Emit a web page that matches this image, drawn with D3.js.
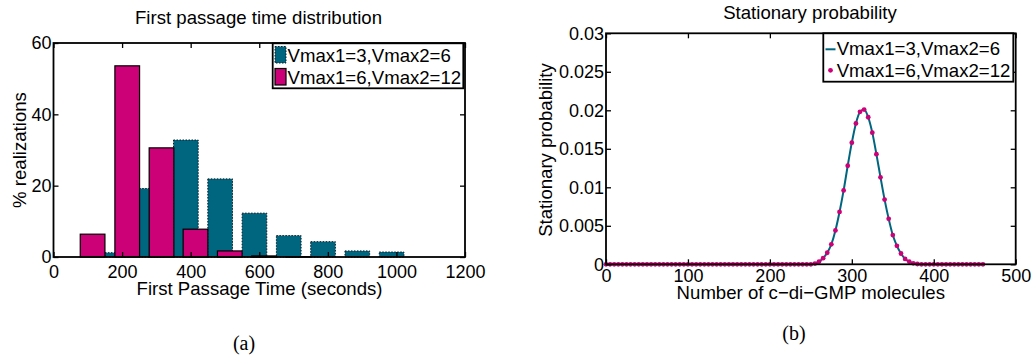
<!DOCTYPE html>
<html>
<head>
<meta charset="utf-8">
<script src="https://cdn.jsdelivr.net/npm/d3@7"></script>
<style>
  body { margin: 0; background: #fff; }
  svg text { font-family: "Liberation Sans", Arial, sans-serif; }
</style>
</head>
<body>
<div id="chart"></div>
<script>
// (a) first passage time histogram - bin centers (seconds) and % realizations
let fptCentersSlow = [186, 286, 386, 486, 586, 686, 786, 886, 986];
let fptValuesSlow  = [1.2, 19.2, 32.8, 21.9, 12.3, 6.0, 4.3, 1.7, 1.4];
let fptCentersFast = [114, 215, 315, 414, 514, 614, 714];
let fptValuesFast  = [6.4, 53.6, 30.6, 7.8, 1.7, 0.3, 0.1];
let fptXTicks = [0, 200, 400, 600, 800, 1000, 1200];
let fptYTicks = [0, 20, 40, 60];

// (b) stationary probability vs number of c-di-GMP molecules
let molCounts = [0, 5, 10, 15, 20, 25, 30, 35, 40, 45, 50, 55, 60, 65, 70, 75, 80, 85, 90, 95,
  100, 105, 110, 115, 120, 125, 130, 135, 140, 145, 150, 155, 160, 165, 170, 175, 180, 185, 190, 195,
  200, 205, 210, 215, 220, 225, 230, 235, 240, 245, 250, 255, 260, 265, 270, 275, 280, 285, 290, 295,
  300, 305, 310, 315, 320, 325, 330, 335, 340, 345, 350, 355, 360, 365, 370, 375, 380, 385, 390, 395,
  400, 405, 410, 415, 420, 425, 430, 435, 440, 445, 450, 455, 460];
let probSlow = [0, 0, 0, 0, 0, 0, 0, 0, 0, 0, 0, 0, 0, 0, 0, 0, 0, 0, 0, 0,
  0, 0, 0, 0, 0, 0, 0, 0, 0, 0, 0, 0, 0, 0, 0, 0, 0, 0, 0, 0,
  0, 0, 0, 0, 0, 0, 0, 0, 0, 0, 0, 0.0001, 0.00035, 0.0008, 0.0015, 0.0026, 0.0044, 0.0068, 0.0096, 0.0128,
  0.0158, 0.0183, 0.0198, 0.0201, 0.0191, 0.0171, 0.0143, 0.0113, 0.0084, 0.0059, 0.0038, 0.0024, 0.0014, 0.0007, 0.00035, 0.00013, 0.00004, 0, 0, 0,
  0, 0, 0, 0, 0, 0, 0, 0, 0, 0, 0, 0, 0];
let probFast = [0, 0, 0, 0, 0, 0, 0, 0, 0, 0, 0, 0, 0, 0, 0, 0, 0, 0, 0, 0,
  0, 0, 0, 0, 0, 0, 0, 0, 0, 0, 0, 0, 0, 0, 0, 0, 0, 0, 0, 0,
  0, 0, 0, 0, 0, 0, 0, 0, 0, 0, 0, 0.0001, 0.00035, 0.0008, 0.0015, 0.0026, 0.0044, 0.0068, 0.0096, 0.0128,
  0.0158, 0.0183, 0.0198, 0.0201, 0.0191, 0.0171, 0.0143, 0.0113, 0.0084, 0.0059, 0.0038, 0.0024, 0.0014, 0.0007, 0.00035, 0.00013, 0.00004, 0, 0, 0,
  0, 0, 0, 0, 0, 0, 0, 0, 0, 0, 0, 0, 0];
let probXTicks = [0, 100, 200, 300, 400, 500];
let probYTicks = [0, 0.005, 0.01, 0.015, 0.02, 0.025, 0.03];
let probYLabels = ["0", "0.005", "0.01", "0.015", "0.02", "0.025", "0.03"];

let seriesNames = ["Vmax1=3,Vmax2=6", "Vmax1=6,Vmax2=12"];

const TEAL = "#00667f";
const MAGENTA = "#cc0077";
const FS = 18;      // tick labels
const LFS = 18.6;   // titles, axis labels, legend

let svg = d3.select("#chart").append("svg")
    .attr("width", 1033)
    .attr("height", 359);

// draws the boxed axes with inward ticks on every side
function draw_frame(g, xScale, yScale, xTicks, yTicks, yFormat, xPad) {
    let x0 = xScale.range()[0], x1 = xScale.range()[1];
    let y0 = yScale.range()[0], y1 = yScale.range()[1];

    let bottom = g.append("g").attr("transform", "translate(0," + y0 + ")")
        .call(d3.axisBottom(xScale).tickValues(xTicks).tickSize(-5).tickPadding(xPad).tickFormat(d3.format("d")));
    let top = g.append("g").attr("transform", "translate(0," + y1 + ")")
        .call(d3.axisTop(xScale).tickValues(xTicks).tickSize(-5).tickFormat(""));
    let left = g.append("g").attr("transform", "translate(" + x0 + ",0)")
        .call(d3.axisLeft(yScale).tickValues(yTicks).tickSize(-5).tickPadding(2).tickFormat(yFormat));
    let right = g.append("g").attr("transform", "translate(" + x1 + ",0)")
        .call(d3.axisRight(yScale).tickValues(yTicks).tickSize(-5).tickFormat(""));

    [bottom, top, left, right].forEach(function(a) {
        a.select(".domain").remove();
        a.selectAll("line").attr("stroke", "#000").attr("stroke-width", 1.3);
        a.selectAll("text").attr("font-size", FS).attr("fill", "#000")
            .style("font-family", "'Liberation Sans', Arial, sans-serif");
    });

    g.append("rect")
        .attr("x", x0).attr("y", y1)
        .attr("width", x1 - x0).attr("height", y0 - y1)
        .attr("fill", "none")
        .attr("stroke", "#000")
        .attr("stroke-width", 1.8);
}

/* ---------------- panel (a) ---------------- */
let gA = svg.append("g");
let xA = d3.scaleLinear().domain([0, 1200]).range([53.5, 465]);
let yA = d3.scaleLinear().domain([0, 60]).range([257, 43]);
let binW = 72;

gA.selectAll("rect.slow")
    .data(fptCentersSlow)
    .enter().append("rect")
    .attr("class", "slow")
    .attr("x", function(d) { return xA(d - binW / 2); })
    .attr("y", function(d, i) { return yA(fptValuesSlow[i]); })
    .attr("width", xA(binW) - xA(0))
    .attr("height", function(d, i) { return yA(0) - yA(fptValuesSlow[i]); })
    .attr("fill", TEAL)
    .attr("stroke", "#0b1b26")
    .attr("stroke-width", 1)
    .attr("stroke-dasharray", "1.5,1.5");

gA.selectAll("rect.fast")
    .data(fptCentersFast)
    .enter().append("rect")
    .attr("class", "fast")
    .attr("x", function(d) { return xA(d - binW / 2); })
    .attr("y", function(d, i) { return yA(fptValuesFast[i]); })
    .attr("width", xA(binW) - xA(0))
    .attr("height", function(d, i) { return yA(0) - yA(fptValuesFast[i]); })
    .attr("fill", MAGENTA)
    .attr("stroke", "#000")
    .attr("stroke-width", 1.2);

draw_frame(gA, xA, yA, fptXTicks, fptYTicks, d3.format("d"), 8);

gA.append("text")
    .attr("x", 258.5).attr("y", 23.5)
    .attr("text-anchor", "middle").attr("font-size", LFS)
    .text("First passage time distribution");
gA.append("text")
    .attr("x", 259.5).attr("y", 294.5)
    .attr("text-anchor", "middle").attr("font-size", LFS)
    .text("First Passage Time (seconds)");
gA.append("text")
    .attr("transform", "translate(26,150) rotate(-90)")
    .attr("text-anchor", "middle").attr("font-size", LFS)
    .text("% realizations");

// legend (a)
let legA = gA.append("g");
legA.append("rect")
    .attr("x", 272.7).attr("y", 43.3).attr("width", 190.6).attr("height", 45)
    .attr("fill", "#fff").attr("stroke", "#000").attr("stroke-width", 1.8);
legA.append("rect")
    .attr("x", 275).attr("y", 46.5).attr("width", 11).attr("height", 16.5)
    .attr("fill", TEAL).attr("stroke", "#0b1b26").attr("stroke-width", 1).attr("stroke-dasharray", "1.5,1.5");
legA.append("rect")
    .attr("x", 275).attr("y", 68.5).attr("width", 11).attr("height", 16.5)
    .attr("fill", MAGENTA).attr("stroke", "#000").attr("stroke-width", 1.2);
legA.selectAll("text")
    .data(seriesNames)
    .enter().append("text")
    .attr("x", 287.5)
    .attr("y", function(d, i) { return 61.7 + i * 21.8; })
    .attr("font-size", LFS)
    .text(function(d) { return d; });

/* ---------------- panel (b) ---------------- */
let gB = svg.append("g");
let xB = d3.scaleLinear().domain([0, 500]).range([606, 1015.7]);
let yB = d3.scaleLinear().domain([0, 0.03]).range([264.3, 33.3]);

let line = d3.line()
    .x(function(d, i) { return xB(molCounts[i]); })
    .y(function(d) { return yB(d); })
    .curve(d3.curveMonotoneX);

gB.append("path")
    .datum(probSlow)
    .attr("d", line)
    .attr("fill", "none")
    .attr("stroke", TEAL)
    .attr("stroke-width", 2);

gB.selectAll("circle")
    .data(probFast)
    .enter().append("circle")
    .attr("cx", function(d, i) { return xB(molCounts[i]); })
    .attr("cy", function(d) { return yB(d); })
    .attr("r", 2.4)
    .attr("fill", MAGENTA);

draw_frame(gB, xB, yB, probXTicks, probYTicks, function(d, i) { return probYLabels[i]; }, 5);

gB.append("text")
    .attr("x", 810).attr("y", 19)
    .attr("text-anchor", "middle").attr("font-size", LFS)
    .text("Stationary probability");
gB.append("text")
    .attr("x", 810.8).attr("y", 298.5)
    .attr("text-anchor", "middle").attr("font-size", LFS)
    .text("Number of c\u2212di\u2212GMP molecules");
gB.append("text")
    .attr("transform", "translate(552,150) rotate(-90)")
    .attr("text-anchor", "middle").attr("font-size", LFS)
    .text("Stationary probability");

// legend (b)
let legB = gB.append("g");
legB.append("rect")
    .attr("x", 823.3).attr("y", 33.3).attr("width", 190).attr("height", 48.4)
    .attr("fill", "#fff").attr("stroke", "#000").attr("stroke-width", 1.8);
legB.append("line")
    .attr("x1", 825.5).attr("x2", 835.5).attr("y1", 49.3).attr("y2", 49.3)
    .attr("stroke", TEAL).attr("stroke-width", 2);
legB.append("circle")
    .attr("cx", 830.5).attr("cy", 70.3).attr("r", 2.4)
    .attr("fill", MAGENTA);
legB.selectAll("text")
    .data(seriesNames)
    .enter().append("text")
    .attr("x", 836.7)
    .attr("y", function(d, i) { return 55 + i * 22; })
    .attr("font-size", LFS)
    .text(function(d) { return d; });

// sub-figure captions
svg.append("text")
    .attr("x", 244).attr("y", 350)
    .attr("text-anchor", "middle").attr("font-size", 20)
    .style("font-family", "'Liberation Serif', 'Times New Roman', serif")
    .text("(a)");
svg.append("text")
    .attr("x", 794).attr("y", 340)
    .attr("text-anchor", "middle").attr("font-size", 20)
    .style("font-family", "'Liberation Serif', 'Times New Roman', serif")
    .text("(b)");
</script>
</body>
</html>
